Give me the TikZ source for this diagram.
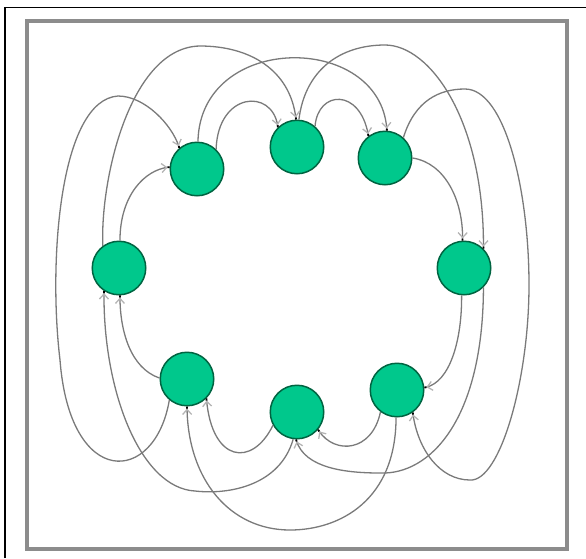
\documentclass[tikz,border=0pt]{standalone}
\usetikzlibrary{arrows.meta}
\definecolor{vfill}{RGB}{0,200,140}
\definecolor{vdraw}{RGB}{0,100,65}
\definecolor{edgegray}{RGB}{122,122,122}
\definecolor{arrowgray}{RGB}{180,180,180}
\definecolor{framegray}{RGB}{140,140,140}
\tikzset{
  vtx/.style={circle, fill=vfill, draw=vdraw, line width=1.5pt, minimum size=53.5pt, inner sep=0pt},
  edge/.style={draw=edgegray, line width=1.3pt,
    -{Straight Barb[length=5pt,width=9pt,color=arrowgray] Rectangle[length=2pt,width=1.8pt,black]}},
}
\begin{document}
\begin{tikzpicture}[x=1pt,y=-1pt]
\useasboundingbox (0,0) rectangle (586,558);
% frames
\draw[black, line width=1.5pt] (5.2,558) -- (5.2,7.5) -- (586,7.5);
\draw[framegray, line width=3.7pt] (26.8,21.3) rectangle (567,549);
% nodes
\node[vtx] (N1) at (197,169) {};
\node[vtx] (N2) at (297,147) {};
\node[vtx] (N3) at (385,158) {};
\node[vtx] (N4) at (464,268) {};
\node[vtx] (N5) at (397,390) {};
\node[vtx] (N6) at (297,412) {};
\node[vtx] (N7) at (187,379) {};
\node[vtx] (N8) at (119,268) {};
% ring edges
\draw[edge] (N1.46) .. controls (218,92) and (272,88) .. (N2.134);
\draw[edge] (N2.49) .. controls (318,90) and (360,88) .. (N3.127);
\draw[edge] (N3.0) .. controls (445,163) and (463,200) .. (N4.93);
\draw[edge] (N4.265) .. controls (462,340) and (450,382) .. (N5.5);
\draw[edge] (N5.233) .. controls (372,452) and (335,455) .. (N6.320);
\draw[edge] (N6.209) .. controls (252,468) and (212,462) .. (N7.315);
\draw[edge] (N7.178) .. controls (130,368) and (120,330) .. (N8.272);
\draw[edge] (N8.88) .. controls (120,195) and (145,170) .. (N1.176);
% skip-one edges
\draw[edge] (N1.88) .. controls (200,32) and (380,32) .. (N3.86);
\draw[edge] (N2.86) .. controls (305,70) and (340,45) .. (385,45)
  .. controls (430,45) and (484,120) .. (N4.45);
\draw[edge] (N3.48) .. controls (415,100) and (440,89) .. (465,89)
  .. controls (505,89) and (529,190) .. (529,285)
  .. controls (529,380) and (500,482) .. (470,480)
  .. controls (440,480) and (418,450) .. (N5.305);
\draw[edge] (N4.315) .. controls (483,420) and (430,475) .. (380,473)
  .. controls (345,473) and (305,468) .. (N6.268);
\draw[edge] (N5.268) .. controls (396,500) and (340,530) .. (290,530)
  .. controls (230,530) and (188,480) .. (N7.270);
\draw[edge] (N6.262) .. controls (280,485) and (230,495) .. (195,491)
  .. controls (140,488) and (103,390) .. (N8.237);
\draw[edge] (N7.230) .. controls (155,485) and (70,490) .. (60,360)
  .. controls (48,260) and (60,100) .. (118,96)
  .. controls (145,96) and (172,125) .. (N1.130);
\draw[edge] (N8.126) .. controls (100,180) and (130,47) .. (200,46)
  .. controls (250,46) and (290,70) .. (N2.92);
\end{tikzpicture}
\end{document}
